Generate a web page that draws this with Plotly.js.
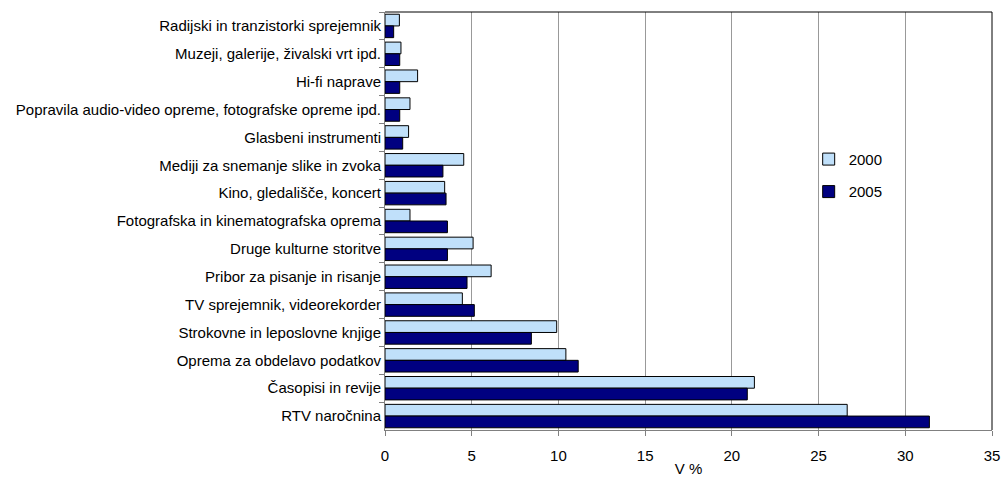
<!DOCTYPE html>
<html>
<head>
<meta charset="utf-8">
<script src="https://cdn.plot.ly/plotly-3.0.1.min.js"></script>
<style>html,body{margin:0;padding:0;background:#fff;}#chart{width:1003px;height:477px;}</style>
</head>
<body>
<div id="chart"></div>
<script>
const categories = [
  "Radijski in tranzistorki sprejemnik",
  "Muzeji, galerije, živalski vrt ipd.",
  "Hi-fi naprave",
  "Popravila audio-video opreme, fotografske opreme ipd.",
  "Glasbeni instrumenti",
  "Mediji za snemanje slike in zvoka",
  "Kino, gledališče, koncert",
  "Fotografska in kinematografska oprema",
  "Druge kulturne storitve",
  "Pribor za pisanje in risanje",
  "TV sprejemnik, videorekorder",
  "Strokovne in leposlovne knjige",
  "Oprema za obdelavo podatkov",
  "Časopisi in revije",
  "RTV naročnina"
];
const values2000 = [0.83, 0.92, 1.88, 1.44, 1.36, 4.54, 3.44, 1.44, 5.08, 6.12, 4.46, 9.9, 10.43, 21.3, 26.65];
const values2005 = [0.5, 0.85, 0.85, 0.85, 1.02, 3.34, 3.52, 3.6, 3.6, 4.73, 5.15, 8.44, 11.14, 20.89, 31.39];
const seriesNames = ["2000", "2005"];
const xTicks = [0, 5, 10, 15, 20, 25, 30, 35];

const traces = [
  {type: 'bar', orientation: 'h', name: seriesNames[0], legendgroup: 'a', y: categories, x: values2000,
   marker: {color: '#C0E0FA', line: {color: '#000000', width: 1}}, hoverinfo: 'x+y'},
  {type: 'bar', orientation: 'h', name: seriesNames[1], legendgroup: 'b', y: categories, x: values2005,
   marker: {color: '#000080', line: {color: '#000000', width: 1}}, hoverinfo: 'x+y'}
];

const layout = {
  width: 1003, height: 477,
  margin: {l: 385, r: 11, t: 12, b: 47, pad: 0},
  paper_bgcolor: '#ffffff', plot_bgcolor: '#ffffff',
  font: {family: 'Arial, "Liberation Sans", sans-serif', size: 15, color: '#000000'},
  barmode: 'group', bargap: 0.16, bargroupgap: 0,
  showlegend: true,
  legend: {x: 0.698, y: 0.687, xanchor: 'left', yanchor: 'top', bgcolor: 'rgba(0,0,0,0)',
           font: {size: 15}, tracegroupgap: 10, traceorder: 'grouped'},
  xaxis: {range: [0, 35], tickvals: xTicks, ticktext: xTicks.map(String), showgrid: true, gridcolor: '#999999', gridwidth: 1,
          zeroline: false, showline: true, linecolor: '#808080', linewidth: 1,
          ticks: 'outside', ticklen: 5, tickcolor: '#808080', tickfont: {size: 15}, ticklabelstandoff: 7,
          title: {text: 'V %', font: {size: 15}, standoff: 5}, fixedrange: true},
  yaxis: {type: 'category', autorange: 'reversed', showgrid: false, zeroline: false,
          showline: true, linecolor: '#808080', linewidth: 1,
          ticks: 'outside', ticklen: 5, tickcolor: '#808080', tickson: 'boundaries', tickfont: {size: 15},
          automargin: false, fixedrange: true},
  shapes: [
    {type: 'line', xref: 'paper', yref: 'paper', x0: 0, x1: 1, y0: 1, y1: 1, line: {color: '#000000', width: 1}},
    {type: 'line', xref: 'paper', yref: 'paper', x0: 1, x1: 1, y0: 0, y1: 1, line: {color: '#000000', width: 1}}
  ]
};

Plotly.newPlot('chart', traces, layout, {displayModeBar: false, staticPlot: true});
</script>
</body>
</html>
